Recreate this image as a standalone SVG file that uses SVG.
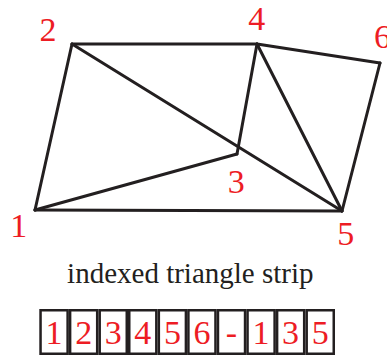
<svg xmlns="http://www.w3.org/2000/svg" width="387" height="356" viewBox="0 0 387 356">
<style>
.e{stroke:#231f20;stroke-width:3;fill:none;stroke-linecap:round;stroke-linejoin:round}
.n{font-family:"Liberation Serif","Times New Roman",serif;font-size:34px;fill:#ed1c24;text-anchor:middle}
.b{fill:#fff;stroke:#231f20;stroke-width:2.5}
.t{font-family:"Liberation Serif","Times New Roman",serif;font-size:29px;fill:#231f20;text-anchor:middle}
</style>
<rect width="387" height="356" fill="#fff"/>
<g id="connectors">
<line class="e" x1="72" y1="44" x2="257" y2="44"/>
<line class="e" x1="257" y1="44" x2="380" y2="63"/>
<line class="e" x1="380" y1="63" x2="342" y2="211"/>
<line class="e" x1="35" y1="210" x2="342" y2="211"/>
<line class="e" x1="35" y1="210" x2="72" y2="44"/>
<line class="e" x1="72" y1="44" x2="342" y2="211"/>
<line class="e" x1="35" y1="210" x2="237" y2="154"/>
<line class="e" x1="237" y1="154" x2="257" y2="44"/>
<line class="e" x1="257" y1="44" x2="342" y2="211"/>
</g>
<g id="v1"><text class="n" x="18.7" y="237.3">1</text></g>
<g id="v2"><text class="n" x="48" y="41.3">2</text></g>
<g id="v3"><text class="n" x="236.3" y="192.7">3</text></g>
<g id="v4"><text class="n" x="256.7" y="30">4</text></g>
<g id="v5"><text class="n" x="345.8" y="245">5</text></g>
<g id="v6"><text class="n" x="382.5" y="48">6</text></g>
<g id="caption"><text class="t" x="190.3" y="283.3">indexed triangle strip</text></g>
<g id="strip">
<rect class="b" x="40.55" y="310.25" width="27.07" height="43.5"/>
<rect class="b" x="70.12" y="310.25" width="27.07" height="43.5"/>
<rect class="b" x="99.69" y="310.25" width="27.07" height="43.5"/>
<rect class="b" x="129.26" y="310.25" width="27.07" height="43.5"/>
<rect class="b" x="158.83" y="310.25" width="27.07" height="43.5"/>
<rect class="b" x="188.4" y="310.25" width="27.07" height="43.5"/>
<rect class="b" x="217.97" y="310.25" width="27.07" height="43.5"/>
<rect class="b" x="247.54" y="310.25" width="27.07" height="43.5"/>
<rect class="b" x="277.11" y="310.25" width="27.07" height="43.5"/>
<rect class="b" x="306.68" y="310.25" width="27.07" height="43.5"/>
<text class="n" x="54.1" y="344">1</text>
<text class="n" x="83.7" y="344">2</text>
<text class="n" x="113.2" y="344">3</text>
<text class="n" x="142.8" y="344">4</text>
<text class="n" x="172.4" y="344">5</text>
<text class="n" x="201.9" y="344">6</text>
<text class="n" x="231.5" y="344">-</text>
<text class="n" x="261.1" y="344">1</text>
<text class="n" x="290.6" y="344">3</text>
<text class="n" x="320.2" y="344">5</text>
</g>
</svg>
